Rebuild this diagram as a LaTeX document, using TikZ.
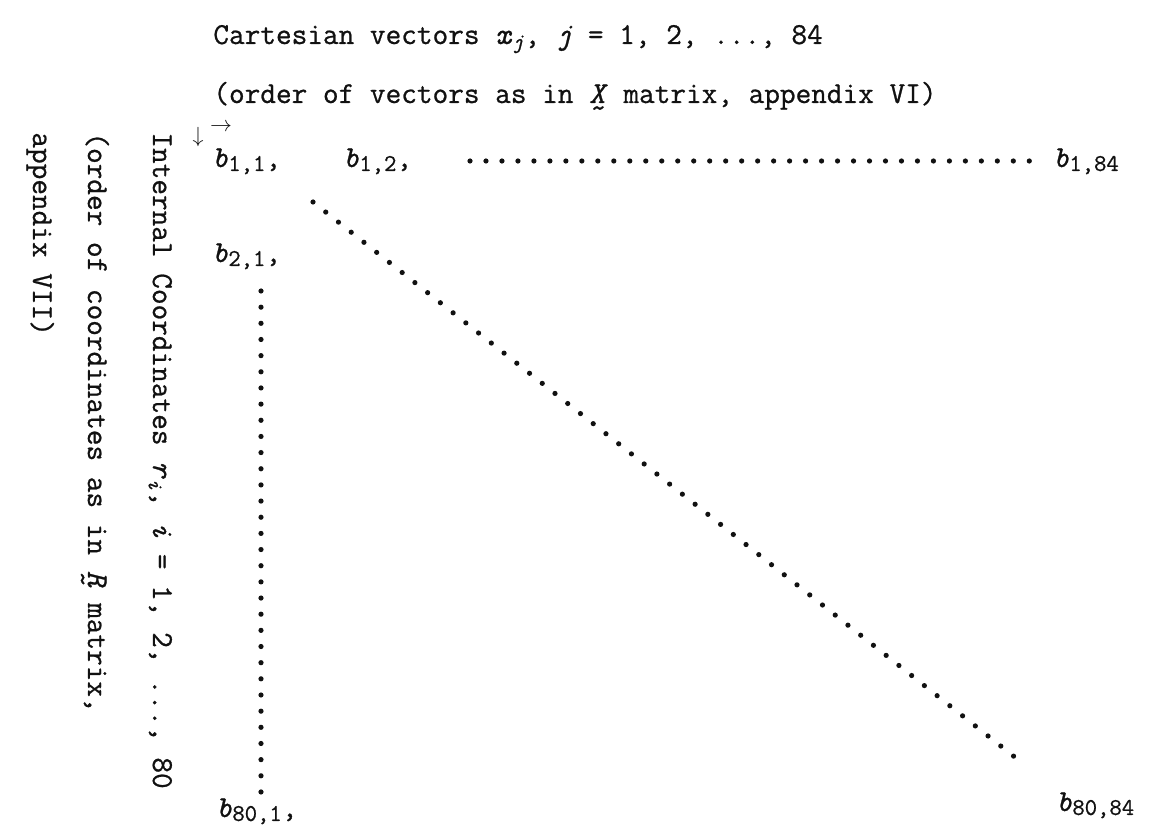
\documentclass[tikz,border=0pt]{standalone}
\usepackage{fontspec}
\newfontfamily\maquina{Latin Modern Mono}[FakeBold=0.8]
\usepackage{tikz}
\usepackage{xcolor}
\usetikzlibrary{positioning}
\definecolor{tinta}{HTML}{111111}
\newcommand{\subInd}[1]{\raisebox{-0.3ex}{\fontsize{12}{12}\selectfont #1}}
\newcommand{\elem}[2]{\textit{b}\subInd{#1}#2}
\newcommand{\vecTilde}[1]{\oalign{\textit{#1}\crcr\hidewidth\textasciitilde\hidewidth}}

\begin{document}
\begin{tikzpicture}[
  x=0.5pt, y=-0.5pt,
  % Estilos de texto
  textoMaquina/.style={
    font=\maquina\fontsize{15.2}{18}\selectfont, text=tinta,
    inner sep=0pt, anchor=base west
  },
  textoVertical/.style={
    textoMaquina, rotate=-90
  },
  elemento/.style={
    textoMaquina
  },
  flechita/.style={
    font=\fontsize{11}{11}\selectfont, text=tinta, inner sep=0pt
  },
  % Estilo de puntos
  puntos/.style={
    draw=tinta, line width=2.6pt, line cap=round,
    dash pattern=on 0pt off #1
  }
]
\useasboundingbox (0,0) rectangle (1157,839);

% --- Encabezado horizontal ---
\node[textoMaquina] (cart) at (213, 44)
  {Cartesian vectors \textit{x}\textsubscript{\textit{j}}, \textit{j} = 1, 2, ..., 84};
\node[textoMaquina] (ordenX) at (213, 103)
  {(order of vectors as in \vecTilde{X} matrix, appendix VI)};

% --- Encabezado vertical ---
\node[textoVertical] (intern) at (153, 132)
  {Internal Coordinates \textit{r}\textsubscript{\textit{i}}, \textit{i} = 1, 2, ..., 80};
\node[textoVertical] (ordenR) at (88, 132)
  {(order of coordinates as in \vecTilde{R} matrix,};
\node[textoVertical] (apend) at (33, 132)
  {appendix VII)};

% --- Flechas pequeñas ---
\node[flechita] (flechaAbajo)   at (198, 137) {$\downarrow$};
\node[flechita] (flechaDerecha) at (221, 127) {$\rightarrow$};

% --- Elementos b ---
\node[elemento] (b11)   at (212, 167)  {\elem{1,1}{,}};
\node[elemento] (b12)   at (343, 167)  {\elem{1,2}{,}};
\node[elemento] (b184)  at (1053, 167) {\elem{1,84}{}};
\node[elemento] (b21)   at (212, 262)  {\elem{2,1}{,}};
\node[elemento] (b801)  at (216, 817)  {\elem{80,1}{,}};
\node[elemento] (b8084) at (1056, 811) {\elem{80,84}{}};

% --- Extremos de las filas de puntos ---
\coordinate (filaIni) at (470, 161);
\coordinate (filaFin) at (1045, 161);
\coordinate (diagIni) at (313, 202);
\coordinate (diagFin) at (1026, 766);
\coordinate (colIni)  at (261, 291);
\coordinate (colFin)  at (261, 792);

% --- Puntos ---
\draw[puntos=7.99pt] (filaIni) -- (filaFin);
\draw[puntos=8.12pt] (diagIni) -- (diagFin);
\draw[puntos=8.08pt] (colIni) -- (colFin);

\end{tikzpicture}
\end{document}
